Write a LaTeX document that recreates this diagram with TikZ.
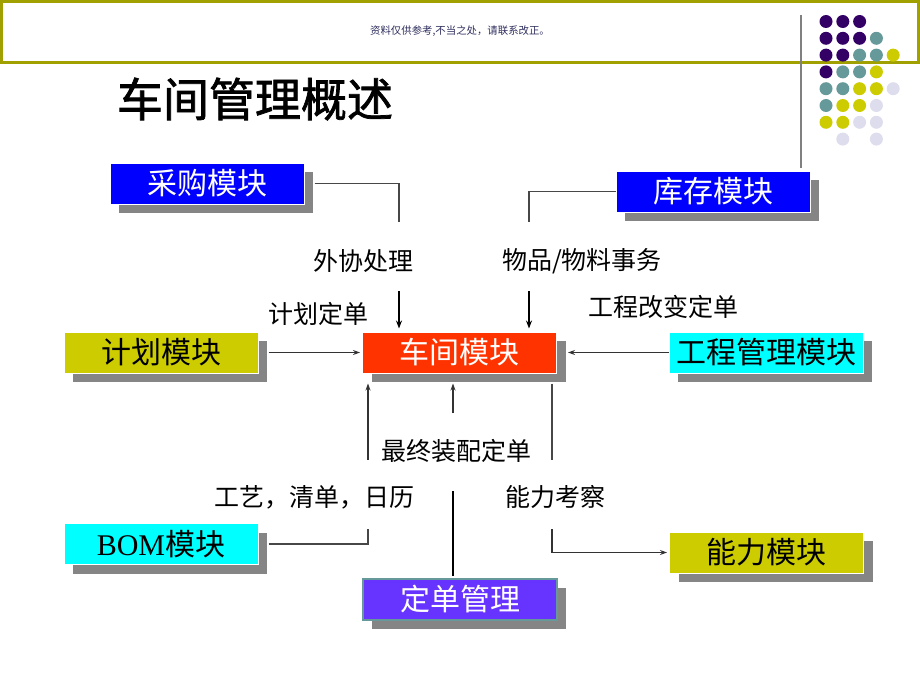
\documentclass[tikz,border=0pt]{standalone}
\usepackage{fontspec}
\setmainfont{Noto Sans CJK SC}
\newfontfamily\latinfont{Liberation Serif}
\newfontfamily\titlefont{Noto Sans CJK SC}[FakeBold=1.6]
\usetikzlibrary{arrows.meta,shadows}

\definecolor{frameolive}{HTML}{A0A000}
\definecolor{notenavy}{HTML}{2E2E5E}
\definecolor{dotA}{HTML}{330066}
\definecolor{dotB}{HTML}{669999}
\definecolor{dotC}{HTML}{CCCC00}
\definecolor{dotD}{HTML}{DDDDEE}
\definecolor{boxblue}{HTML}{0000FF}
\definecolor{boxred}{HTML}{FF3300}
\definecolor{boxcyan}{HTML}{00FFFF}
\definecolor{boxolive}{HTML}{CCCC00}
\definecolor{boxviolet}{HTML}{6633FF}
\definecolor{boxrim}{HTML}{669999}

\begin{document}
\begin{tikzpicture}[
  x=1pt,y=-1pt,
  >=Stealth,
  every node/.style={font=\fontsize{25}{30}\selectfont},
  module/.style={rectangle,draw=white,line width=1pt,minimum width=194pt,minimum height=41pt,inner sep=0pt,
    font=\fontsize{30}{36}\selectfont,
    general shadow={shadow xshift=9pt,shadow yshift=-9pt,fill=black!48}},
  flow label/.style={inner sep=0pt,text=black},
  link/.style={draw=black!72,line width=1.3pt},
  thin arrow/.style={draw=black!80,line width=1.1pt,-{Stealth[length=7pt,width=5pt]}},
  big arrow/.style={draw=black,line width=1.8pt,-{Stealth[length=8pt,width=6pt]}},
]
\useasboundingbox (0,0) rectangle (920,690);

% header frame and note
\draw[frameolive,line width=3pt] (1.5,1.5) rectangle (918.5,63);
\node[font=\fontsize{10.4}{12}\selectfont,text=notenavy] (note) at (460,31) {资料仅供参考,不当之处，请联系改正。};
\draw[black!50,line width=2pt] (801,15) -- (801,168);

% dot grid
\foreach \c/\r/\col in {0/0/dotA,1/0/dotA,2/0/dotA,
  0/1/dotA,1/1/dotA,2/1/dotA,3/1/dotB,
  0/2/dotA,1/2/dotA,2/2/dotB,3/2/dotB,4/2/dotC,
  0/3/dotA,1/3/dotB,2/3/dotB,3/3/dotC,
  0/4/dotB,1/4/dotB,2/4/dotC,3/4/dotC,4/4/dotD,
  0/5/dotB,1/5/dotC,2/5/dotC,3/5/dotD,
  0/6/dotC,1/6/dotC,2/6/dotD,3/6/dotD,
  1/7/dotD,3/7/dotD}
  \fill[\col] (826+16.8*\c,21.5+16.8*\r) circle[radius=6.5pt];

% title
\node[font=\titlefont\fontsize{46}{52}\selectfont] (title) at (255,99) {车间管理概述};

% modules
\node[module,fill=boxblue,text=white] (cg) at (207,183.5) {采购模块};
\node[module,fill=boxblue,text=white] (kc) at (713,191.5) {库存模块};
\node[module,fill=boxolive,text=black] (jh) at (161,352.5) {计划模块};
\node[module,fill=boxred,text=white] (cj) at (459.5,352.5) {车间模块};
\node[module,fill=boxcyan,text=black] (gc) at (766,352.5) {工程管理模块};
\node[module,fill=boxcyan,text=black] (bom) at (161,544) {{\latinfont BOM}模块};
\node[module,fill=boxolive,text=black] (nl) at (766.5,552.5) {能力模块};
\node[module,fill=boxviolet,text=white,draw=boxrim,line width=2pt] (dd) at (460,599) {定单管理};

% flow labels
\node[flow label] (wx) at (363,261) {外协处理};
\node[flow label] (wp) at (582,261) {物品/物料事务};
\node[flow label] (jd) at (318,314) {计划定单};
\node[flow label] (gg) at (663,307) {工程改变定单};
\node[flow label] (zz) at (456,451) {最终装配定单};
\node[flow label] (gy) at (314,497) {工艺，清单，日历};
\node[flow label] (nk) at (555,497) {能力考察};

% free ends of the connectors
\coordinate (cjS) at ([yshift=-10pt]cj.south);
\coordinate (wxA) at (399,222);
\coordinate (wxB) at (399,291);
\coordinate (wpA) at (529,222);
\coordinate (wpB) at (529,291);
\coordinate (gyA) at (368,529);
\coordinate (gyB) at (368,460);
\coordinate (zzB) at (453,413);
\coordinate (ddA) at (453,491);
\coordinate (nkA) at (552,460);
\coordinate (nkB) at (552,529);

% connectors
\draw[link] ([xshift=10pt]cg.east) -| (wxA);
\draw[big arrow] (wxB) -- ([yshift=3pt]wxB |- cj.north);
\draw[link] (kc.west) -| (wpA);
\draw[big arrow] (wpB) -- ([yshift=3pt]wpB |- cj.north);
\draw[thin arrow] ([xshift=10pt]jh.east) -- ([xshift=-2pt]cj.west);
\draw[thin arrow] (gc.west) -- ([xshift=11pt]cj.east);
\draw[link] ([xshift=10pt]bom.east) -| (gyA);
\draw[thin arrow] (gyB) -- (gyB |- cjS);
\draw[thin arrow] (zzB) -- (zzB |- cjS);
\draw[link,draw=black] (ddA) -- ([yshift=2pt]ddA |- dd.north);
\draw[link] (nkA |- cjS) -- (nkA);
\draw[thin arrow] (nkB) |- ([xshift=-2pt]nl.west);
\end{tikzpicture}
\end{document}
